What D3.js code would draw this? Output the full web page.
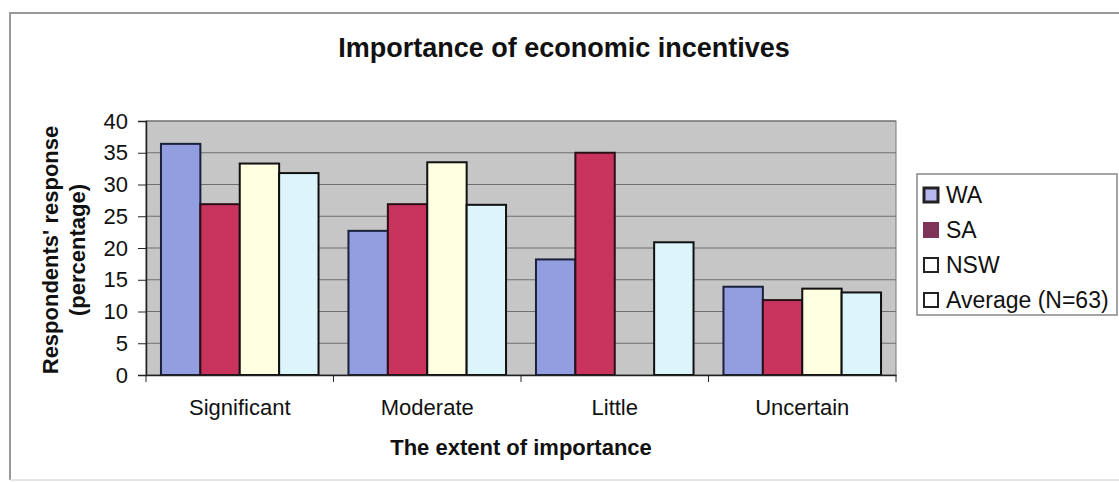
<!DOCTYPE html>
<html><head><meta charset="utf-8">
<script src="https://cdn.jsdelivr.net/npm/d3@7"></script>
<style>body{margin:0;background:#fff;}svg{display:block;font-family:Arial,"Liberation Sans",sans-serif;}</style>
</head><body><svg id="c" width="1119" height="483"></svg>
<script>
const categories = ["Significant", "Moderate", "Little", "Uncertain"];
const seriesNames = ["WA", "SA", "NSW", "Average (N=63)"];
const WA = [36.4, 22.7, 18.2, 13.9];
const SA = [26.9, 26.9, 35.0, 11.8];
const NSW = [33.3, 33.5, 0, 13.6];
const AVG = [31.8, 26.8, 20.9, 13.0];
const yTicks = [0, 5, 10, 15, 20, 25, 30, 35, 40];
const seriesValues = [WA, SA, NSW, AVG];
const fills = ["#929ee0", "#c9345f", "#ffffe2", "#dcf5fb"];
const strokes = ["#1a1f3a", "#2a1016", "#111", "#111"];

const svg = d3.select("#c");
// outer frame
svg.append("path").attr("d","M10,480 L10,13 L1119,13").attr("fill","none").attr("stroke","#999").attr("stroke-width",2);
svg.append("line").attr("x1",10).attr("x2",1119).attr("y1",480).attr("y2",480).attr("stroke","#ddd").attr("stroke-width",1.5);

const L = 146, R = 896, T = 121, B = 375;
const x = d3.scaleBand().domain(categories).range([L, R]).paddingInner(0).paddingOuter(0);
const xi = d3.scaleBand().domain(d3.range(4)).range([0, x.bandwidth()]).paddingOuter(0.38).paddingInner(0);
const y = d3.scaleLinear().domain([0, 40]).range([B, T]);

svg.append("rect").attr("x",L).attr("y",T).attr("width",R-L).attr("height",B-T).attr("fill","#c6c6c6").attr("stroke","#777").attr("stroke-width",1);
svg.append("g").selectAll("line").data(yTicks.filter(d=>d>0)).join("line")
  .attr("x1",L).attr("x2",R).attr("y1",d=>y(d)).attr("y2",d=>y(d)).attr("stroke","#6f6f6f").attr("stroke-width",1);

// bars
categories.forEach((c, ci) => {
  seriesValues.forEach((vals, si) => {
    const v = vals[ci];
    if (v <= 0) return;
    svg.append("rect").attr("x", x(c) + xi(si)).attr("y", y(v))
      .attr("width", xi.bandwidth()).attr("height", y(0) - y(v))
      .attr("fill", fills[si]).attr("stroke", strokes[si]).attr("stroke-width", 2);
  });
});

// axes
const yAxis = d3.axisLeft(y).tickValues(yTicks).tickSize(8).tickPadding(10);
const gy = svg.append("g").attr("transform", `translate(${L},0)`).call(yAxis);
gy.attr("font-size", null).attr("font-family", null);
gy.select(".domain").attr("stroke","#222").attr("stroke-width",1.5);
gy.selectAll(".tick line").attr("stroke","#222");
gy.selectAll("text").style("font-size","22px").attr("fill","#111").style("font-family","Arial");

const xAxis = d3.axisBottom(x).tickSize(0).tickPadding(24);
const gx = svg.append("g").attr("transform", `translate(0,${B})`).call(xAxis);
gx.attr("font-size", null).attr("font-family", null);
gx.select(".domain").attr("stroke","#222").attr("stroke-width",1.5);
gx.selectAll("text").style("font-size","22px").attr("fill","#111").style("font-family","Arial");
// category separator ticks
svg.append("g").selectAll("line").data(categories.concat(["end"])).join("line")
  .attr("x1",(d,i)=>L + i*x.bandwidth()).attr("x2",(d,i)=>L + i*x.bandwidth())
  .attr("y1",B).attr("y2",B+7).attr("stroke","#222");

// title
svg.append("text").attr("x", 564).attr("y", 57).attr("text-anchor","middle")
  .style("font-size","27px").attr("font-weight","bold").attr("fill","#111").text("Importance of economic incentives");
// axis titles
svg.append("text").attr("x", (L+R)/2).attr("y", 455).attr("text-anchor","middle")
  .style("font-size","22px").attr("font-weight","bold").attr("fill","#111").text("The extent of importance");
const yt = svg.append("text").attr("transform","translate(58,250) rotate(-90)").attr("text-anchor","middle")
  .style("font-size","22px").attr("font-weight","bold").attr("fill","#111");
yt.append("tspan").attr("x",0).attr("dy",0).text("Respondents' response");
yt.append("tspan").attr("x",0).attr("dy",27).text("(percentage)");

// legend
const lg = svg.append("g");
lg.append("rect").attr("x",917).attr("y",174).attr("width",200).attr("height",141).attr("fill","#fff").attr("stroke","#888").attr("stroke-width",1.5);
const legFills = ["#b8b8f0", "#7e3456", "#ffffff", "#ffffff"];
const legStrokes = ["#222", "#7e3456", "#222", "#222"];
seriesNames.forEach((n, i) => {
  const cy = 195 + i * 35;
  lg.append("rect").attr("x", 924).attr("y", cy - 7).attr("width", 14).attr("height", 14)
    .attr("fill", legFills[i]).attr("stroke", legStrokes[i]).attr("stroke-width", i===0?3:2);
  lg.append("text").attr("x", 946).attr("y", cy + 8).style("font-size", "23px").attr("fill","#111").text(n);
});
</script></body></html>
